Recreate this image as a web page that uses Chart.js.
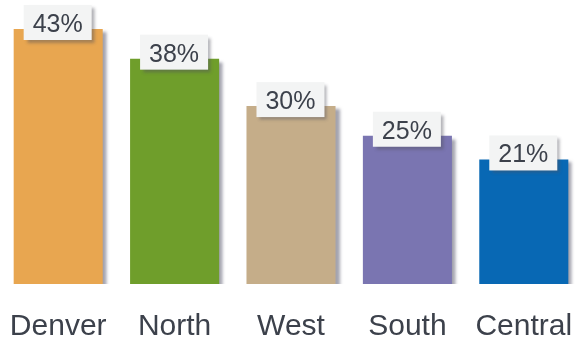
<!DOCTYPE html>
<html>
<head>
<meta charset="utf-8">
<script src="https://cdn.jsdelivr.net/npm/chart.js@4"></script>
<style>
  html, body { margin: 0; padding: 0; background: #fff; }
  #wrap { width: 582px; height: 344px; }
</style>
</head>
<body>
<div id="wrap"><canvas id="chart"></canvas></div>
<script>
const regions = ['Denver', 'North', 'West', 'South', 'Central'];
const shares = [43, 38, 30, 25, 21];
const barColors = ['#e8a650', '#6f9e2b', '#c5ad89', '#7a75b1', '#0868b4'];

// soft drop shadow behind the bars
const barShadow = {
    id: 'barShadow',
    beforeDatasetsDraw(chart) {
        const ctx = chart.ctx;
        ctx.save();
        ctx.shadowColor = 'rgba(90, 90, 110, 0.55)';
        ctx.shadowOffsetX = 4;
        ctx.shadowOffsetY = 3;
        ctx.shadowBlur = 3;
    },
    afterDatasetsDraw(chart) {
        chart.ctx.restore();
    }
};

// white percentage tags sitting on the bar tops
const valueTags = {
    id: 'valueTags',
    afterDatasetsDraw(chart) {
        const ctx = chart.ctx;
        const meta = chart.getDatasetMeta(0);
        meta.data.forEach((bar, i) => {
            const left = bar.x - bar.width / 2 + 10;
            const top = bar.y - 24;
            ctx.save();
            ctx.shadowColor = 'rgba(80, 80, 90, 0.45)';
            ctx.shadowOffsetX = 3;
            ctx.shadowOffsetY = 3;
            ctx.shadowBlur = 3;
            ctx.fillStyle = '#f3f4f4';
            ctx.fillRect(left, top, 68, 35);
            ctx.restore();
            ctx.save();
            ctx.fillStyle = '#3c414b';
            ctx.font = '25px "Liberation Sans", Arial, sans-serif';
            ctx.textAlign = 'center';
            ctx.textBaseline = 'middle';
            ctx.fillText(shares[i] + '%', left + 34, top + 20);
            ctx.restore();
        });
    }
};

new Chart(document.getElementById('chart'), {
    type: 'bar',
    data: {
        labels: regions,
        datasets: [{
            data: shares,
            backgroundColor: barColors,
            borderWidth: 0,
            barPercentage: 0.765,
            categoryPercentage: 1
        }]
    },
    options: {
        responsive: true,
        maintainAspectRatio: false,
        animation: false,
        layout: { padding: { top: 29, left: 0, right: 0, bottom: 0 } },
        plugins: {
            legend: { display: false },
            tooltip: { enabled: false }
        },
        scales: {
            x: {
                grid: { display: false, drawTicks: false },
                border: { display: false },
                ticks: {
                    color: '#3c414b',
                    padding: 25,
                    maxRotation: 0,
                    autoSkip: false,
                    font: { family: '"Liberation Sans", Arial, sans-serif', size: 30 }
                },
                afterFit(scale) {
                    // keep the bars spanning the full width and the baseline at y=284
                    scale.height = 60;
                    scale.paddingLeft = 0;
                    scale.paddingRight = 0;
                }
            },
            y: {
                display: false,
                min: 0,
                max: 43
            }
        }
    },
    plugins: [barShadow, valueTags]
});
</script>
</body>
</html>
